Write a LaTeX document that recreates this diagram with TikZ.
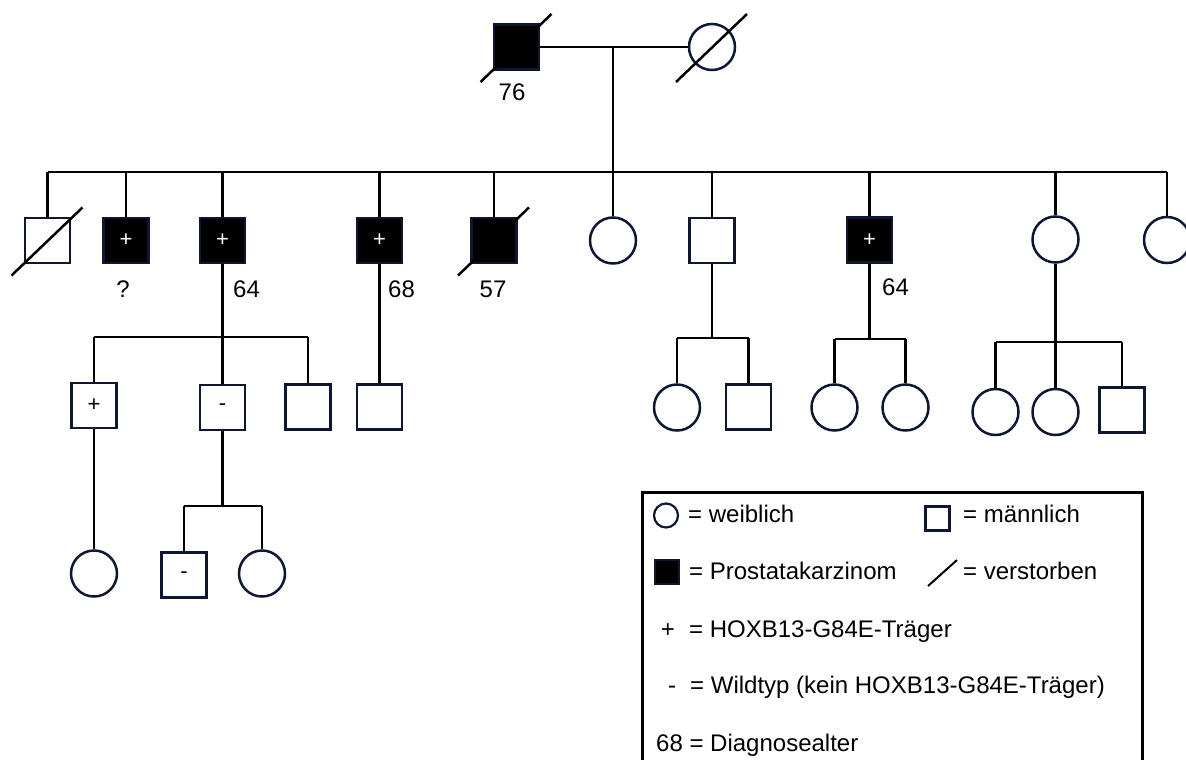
\documentclass[tikz,border=0pt]{standalone}
\usepackage{fontspec}
\setmainfont{Liberation Sans}
\definecolor{pedline}{RGB}{15,22,50}
\newcommand\deceased[1]{\draw[slash] ([shift={(-36,35)}]#1.center) -- ([shift={(35,-33)}]#1.center);}
\begin{document}
\begin{tikzpicture}[x=1pt,y=-1pt,
  male/.style={draw=pedline,rectangle,minimum size=45pt,inner sep=0pt,line width=2.5pt},
  female/.style={draw=pedline,circle,minimum size=46pt,inner sep=0pt,line width=2.5pt},
  affected/.style={fill=black,text=white},
  sym/.style={font=\fontsize{22}{24}\selectfont},
  age/.style={font=\fontsize{24}{28}\selectfont,inner sep=0pt},
  leg/.style={font=\fontsize{24}{28}\selectfont,inner sep=0pt,anchor=base west},
  link/.style={draw=black,line width=2.5pt},
  slash/.style={draw=black,line width=2.5pt},
]
\useasboundingbox (0,0) rectangle (1186,760);
\clip (0,0) rectangle (1186,760);
\fill[white] (0,0) rectangle (1186,760);

% ---- parents ----
\node[male,affected] (pm) at (516.5,47) {};
\node[female] (pf) at (712,47) {};
\deceased{pm}
\deceased{pf}
\node[age] (pmage) at (512,92) {76};
\coordinate (mar) at (613,47);
\coordinate (sib) at (613,172);
\draw[link] (pm.east) -- (pf.west);
\draw[link] (mar) -- (sib);

% ---- children ----
\node[male] (c1) at (47.5,240.5) {};
\node[male,affected,sym] (c2) at (126,240.5) {+};
\node[male,affected,sym] (c3) at (222.5,240.5) {+};
\node[male,affected,sym] (c4) at (379.5,240.5) {+};
\node[male,affected] (c5) at (494,240.5) {};
\node[female] (c6) at (613,240.5) {};
\node[male] (c7) at (712,240.5) {};
\node[male,affected,sym] (c8) at (869.5,240) {+};
\node[female] (c9) at (1055.5,239.5) {};
\node[female] (c10) at (1167,240) {};
\deceased{c1}
\deceased{c5}

\draw[link] (sib -| c1) -- (sib -| c10);
\foreach \c in {c1,c2,c3,c4,c5,c6,c7,c8,c9,c10}
  \draw[link] (sib -| \c) -- (\c.north);

\node[age] (a2) at (123,289) {?};
\node[age,anchor=west] (a3) at (233,289) {64};
\node[age,anchor=west] (a4) at (388,289) {68};
\node[age] (a5) at (493,289) {57};
\node[age,anchor=west] (a8) at (882,287) {64};

% ---- grandchildren ----
\node[male,sym] (g1) at (94,405.5) {+};
\node[male,sym] (g2) at (222.5,407.5) {-};
\node[male] (g3) at (308,407) {};
\node[male] (g4) at (379.5,407) {};
\node[female] (g5) at (677,407.5) {};
\node[male] (g6) at (748.5,407) {};
\node[female] (g7) at (834.5,407.5) {};
\node[female] (g8) at (905.5,407.5) {};
\node[female] (g9) at (995.5,412) {};
\node[female] (g10) at (1055.5,412) {};
\node[male] (g11) at (1122,410) {};

\coordinate (s3) at (222.5,337);
\draw[link] (c3.south) -- (g2.north);
\draw[link] (s3 -| g1) -- (s3 -| g3);
\draw[link] (s3 -| g1) -- (g1.north);
\draw[link] (s3 -| g3) -- (g3.north);

\draw[link] (c4.south) -- (g4.north);

\coordinate (s7) at (712,338);
\draw[link] (c7.south) -- (s7);
\draw[link] (s7 -| g5) -- (s7 -| g6);
\draw[link] (s7 -| g5) -- (g5.north);
\draw[link] (s7 -| g6) -- (g6.north);

\coordinate (s8) at (869.5,339);
\draw[link] (c8.south) -- (s8);
\draw[link] (s8 -| g7) -- (s8 -| g8);
\draw[link] (s8 -| g7) -- (g7.north);
\draw[link] (s8 -| g8) -- (g8.north);

\coordinate (s9) at (1055.5,342);
\draw[link] (c9.south) -- (g10.north);
\draw[link] (s9 -| g9) -- (s9 -| g11);
\draw[link] (s9 -| g9) -- (g9.north);
\draw[link] (s9 -| g11) -- (g11.north);

% ---- great-grandchildren ----
\node[female] (h1) at (94,573.5) {};
\node[male,sym] (h2) at (184,575) {-};
\node[female] (h3) at (262,573.5) {};

\draw[link] (g1.south) -- (h1.north);
\coordinate (s2) at (222.5,506);
\draw[link] (g2.south) -- (s2);
\draw[link] (s2 -| h2) -- (s2 -| h3);
\draw[link] (s2 -| h2) -- (h2.north);
\draw[link] (s2 -| h3) -- (h3.north);

% ---- legend ----
\draw[black,line width=3pt] (642,770) -- (642,492) -- (1142,492) -- (1142,770);
\node[draw=pedline,circle,minimum size=24pt,inner sep=0pt,line width=2.2pt] (lf) at (666,515.5) {};
\node[leg] (lft) at (688,522) {= weiblich};
\node[draw=pedline,rectangle,minimum size=24pt,inner sep=0pt,line width=2.2pt] (lm) at (937.5,518.5) {};
\node[leg] (lmt) at (963,522) {= männlich};
\node[draw=pedline,fill=black,rectangle,minimum size=24pt,inner sep=0pt,line width=2pt] (la) at (666.5,571.5) {};
\node[leg] (lat) at (689,579) {= Prostatakarzinom};
\draw[black,line width=2pt] (928,586) -- (957,560);
\node[leg] (ldt) at (963,579) {= verstorben};
\node[leg,anchor=base] (lp) at (668,637) {+};
\node[leg] (lpt) at (689,637) {= HOXB13-G84E-Träger};
\node[leg,anchor=base] (ln) at (672,693) {-};
\node[leg] (lnt) at (690,693) {= Wildtyp (kein HOXB13-G84E-Träger)};
\node[leg] (lat2) at (656,751) {68 = Diagnosealter};
\end{tikzpicture}
\end{document}
